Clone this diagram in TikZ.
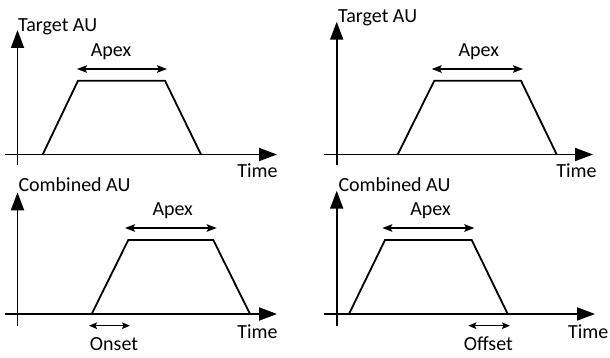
\documentclass[tikz,border=0pt]{standalone}
\usepackage{fontspec}
\setmainfont{Carlito}
\usetikzlibrary{arrows.meta}
\begin{document}
\begin{tikzpicture}[x=1pt,y=-1pt,
  axis/.style={line width=1.8pt,-{Triangle[length=18pt,width=13pt]}},
  curve/.style={line width=1.8pt,line join=miter},
  span/.style={line width=1.6pt,{Stealth[length=10pt,width=7.5pt,inset=2pt]}-{Stealth[length=10pt,width=7.5pt,inset=2pt]}},
  smallspan/.style={line width=1.4pt,{Stealth[length=8pt,width=6.5pt,inset=1.5pt]}-{Stealth[length=8pt,width=6.5pt,inset=1.5pt]}},
  lbl/.style={inner sep=0pt,font=\fontsize{20}{23}\selectfont}]
\useasboundingbox (0,0) rectangle (610,358);
% ---------- Panel 1 ----------
\coordinate (a1b) at (17.5,165);  \coordinate (a1t) at (17.5,30);
\coordinate (x1l) at (5,154.5);   \coordinate (x1r) at (277,154.5);
\coordinate (t1a) at (42.7,154.5); \coordinate (t1b) at (78,80.7);
\coordinate (t1c) at (165,80.7);  \coordinate (t1d) at (201,154.5);
\coordinate (p1l) at (77,69);     \coordinate (p1r) at (167,69);
\draw[axis] (a1b) -- (a1t);
\draw[axis] (x1l) -- (x1r);
\draw[curve] (t1a) -- (t1b) -- (t1c) -- (t1d);
\draw[span] (p1l) -- (p1r);
\node[lbl,anchor=base west] (y1) at (18,31.7) {Target AU};
\node[lbl,anchor=base] (ap1) at (111,56.7) {Apex};
\node[lbl,anchor=base] (tm1) at (257.5,178) {Time};
% ---------- Panel 2 ----------
\coordinate (a2b) at (336.7,165);  \coordinate (a2t) at (336.7,21.7);
\coordinate (x2l) at (324,154.5);  \coordinate (x2r) at (593,154.5);
\coordinate (t2a) at (397.7,154.5); \coordinate (t2b) at (434.3,80.7);
\coordinate (t2c) at (521,80.7);   \coordinate (t2d) at (556.7,154.5);
\coordinate (p2l) at (431.7,69);   \coordinate (p2r) at (523,69);
\draw[axis] (a2b) -- (a2t);
\draw[axis] (x2l) -- (x2r);
\draw[curve] (t2a) -- (t2b) -- (t2c) -- (t2d);
\draw[span] (p2l) -- (p2r);
\node[lbl,anchor=base west] (y2) at (338,22.5) {Target AU};
\node[lbl,anchor=base] (ap2) at (478.8,56.7) {Apex};
\node[lbl,anchor=base] (tm2) at (576.5,178) {Time};
% ---------- Panel 3 ----------
\coordinate (a3b) at (17.5,325.7);  \coordinate (a3t) at (17.5,192.3);
\coordinate (x3l) at (5,314);       \coordinate (x3r) at (277,314);
\coordinate (t3a) at (91.7,314);    \coordinate (t3b) at (128.3,240);
\coordinate (t3c) at (213.3,240);   \coordinate (t3d) at (250,314);
\coordinate (p3l) at (125,228);     \coordinate (p3r) at (216.7,228);
\coordinate (o3l) at (89,325.7);    \coordinate (o3r) at (130,325.7);
\draw[axis] (a3b) -- (a3t);
\draw[axis] (x3l) -- (x3r);
\draw[curve] (t3a) -- (t3b) -- (t3c) -- (t3d);
\draw[span] (p3l) -- (p3r);
\draw[smallspan] (o3l) -- (o3r);
\node[lbl,anchor=base west] (y3) at (18.3,191.7) {Combined AU};
\node[lbl,anchor=base] (ap3) at (172.7,215.7) {Apex};
\node[lbl,anchor=base] (tm3) at (257.5,338.3) {Time};
\node[lbl,anchor=base] (on3) at (114,350.7) {Onset};
% ---------- Panel 4 ----------
\coordinate (a4b) at (336.7,325.7);  \coordinate (a4t) at (336.7,190.7);
\coordinate (x4l) at (324.3,314);    \coordinate (x4r) at (595,314);
\coordinate (t4a) at (349,314);      \coordinate (t4b) at (385,240);
\coordinate (t4c) at (471.7,240);    \coordinate (t4d) at (507.7,314);
\coordinate (p4l) at (382.3,228);    \coordinate (p4r) at (474.3,228);
\coordinate (o4l) at (468.3,325.7);  \coordinate (o4r) at (510,325.7);
\draw[axis] (a4b) -- (a4t);
\draw[axis] (x4l) -- (x4r);
\draw[curve] (t4a) -- (t4b) -- (t4c) -- (t4d);
\draw[span] (p4l) -- (p4r);
\draw[smallspan] (o4l) -- (o4r);
\node[lbl,anchor=base west] (y4) at (338.3,191.7) {Combined AU};
\node[lbl,anchor=base] (ap4) at (430.5,215.7) {Apex};
\node[lbl,anchor=base] (tm4) at (588.3,338.3) {Time};
\node[lbl,anchor=base] (of4) at (488.3,350.7) {Offset};
\end{tikzpicture}
\end{document}
